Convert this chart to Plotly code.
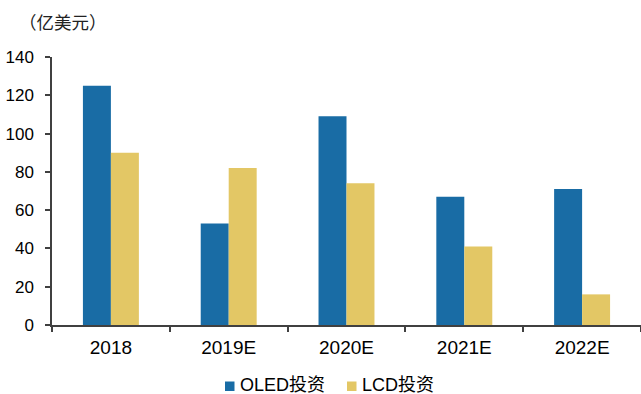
import plotly.graph_objects as go

# Annual panel capex, in 100 million USD
years = ["2018", "2019E", "2020E", "2021E", "2022E"]
oled_capex = [125, 53, 109, 67, 71]
lcd_capex = [90, 82, 74, 41, 16]

y_ticks = [0, 20, 40, 60, 80, 100, 120, 140]

series = [("OLED投资", oled_capex, "#196CA5"),
          ("LCD投资", lcd_capex, "#E3C765")]

AXIS = "#404040"
FONT = "Liberation Sans, Arial, Noto Sans CJK SC, sans-serif"

W, H = 641, 394
ML, MR, MT, MB = 52, 0, 57, 69
PW, PH = W - ML - MR, H - MT - MB


def px_x(px):
    return (px - ML) / PW


def px_y(py):
    return (H - MB - py) / PH


fig = go.Figure()
for name, vals, color in series:
    fig.add_trace(go.Bar(name=name, x=years, y=vals,
                         marker=dict(color=color, line=dict(width=0))))

# Legend row under the axis: square key followed by its label
shapes, annotations = [], []
key_left = [225, 347]
for (name, _, color), kx in zip(series, key_left):
    shapes.append(dict(type="rect", xref="paper", yref="paper",
                       x0=px_x(kx), x1=px_x(kx + 9.5),
                       y0=px_y(391), y1=px_y(381.5),
                       fillcolor=color, line=dict(width=0)))
    annotations.append(dict(text=name, xref="paper", yref="paper",
                            x=px_x(kx + 14), y=px_y(384.5),
                            xanchor="left", yanchor="middle", showarrow=False,
                            borderpad=0,
                            font=dict(size=18, color="black")))

# Unit label
annotations.append(dict(text="（亿美元）", xref="paper", yref="paper",
                        x=px_x(17), y=px_y(21), xanchor="left",
                        yanchor="middle", showarrow=False,
                        font=dict(size=17.5, color="#222222",
                                  family="Noto Sans CJK SC")))

fig.update_layout(
    width=W, height=H,
    margin=dict(l=ML, r=MR, t=MT, b=MB, autoexpand=False),
    paper_bgcolor="white", plot_bgcolor="white",
    barmode="group", bargap=0.525, bargroupgap=0,
    showlegend=False,
    font=dict(family=FONT, color="black", size=16),
    xaxis=dict(type="category", showline=True, linecolor=AXIS, linewidth=1.5,
               ticks="outside", tickson="boundaries", ticklen=5, tickcolor=AXIS,
               tickwidth=1.5, tickfont=dict(size=19), showgrid=False,
               zeroline=False, automargin=False, ticklabelstandoff=4),
    yaxis=dict(range=[0, 140], tickvals=y_ticks, showline=True, linecolor=AXIS,
               linewidth=1.5, ticks="outside", ticklen=5, tickcolor=AXIS,
               tickwidth=1.5, tickfont=dict(size=17), showgrid=False,
               zeroline=False, automargin=False, ticklabelstandoff=8),
    shapes=shapes,
    annotations=annotations,
)

fig.write_html("out.html")
